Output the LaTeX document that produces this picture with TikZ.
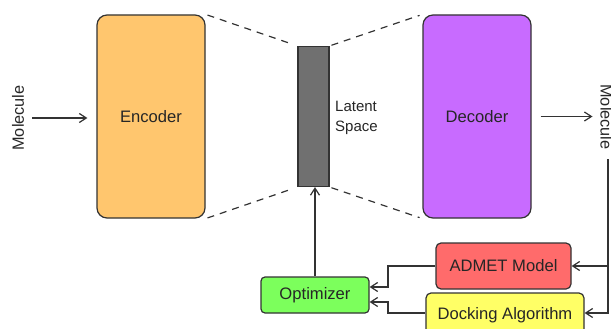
\documentclass[tikz,border=0pt]{standalone}
\usepackage{fontspec}
\setmainfont{Liberation Sans}
\usetikzlibrary{arrows.meta,calc}
\definecolor{encC}{HTML}{FFC66E}
\definecolor{decC}{HTML}{C86BFF}
\definecolor{latC}{HTML}{707070}
\definecolor{admC}{HTML}{FF6B6B}
\definecolor{dockC}{HTML}{FFFF66}
\definecolor{optC}{HTML}{7CFF5C}
\definecolor{lineC}{HTML}{333333}
\begin{document}
\begin{tikzpicture}[x=1pt,y=-1pt,
  box/.style={draw=lineC, line width=1.2pt, inner sep=0pt, font=\fontsize{16.6}{19}\selectfont, text=black!85},
  lbl/.style={inner sep=0pt, font=\fontsize{16.3}{19}\selectfont, text=black!85},
  arr/.style={draw=lineC, line width=1.2pt, -{Straight Barb[length=7pt,width=9pt,line width=1.2pt]}},
  dashln/.style={draw=lineC, line width=1.2pt, dash pattern=on 7pt off 6pt}
]
\useasboundingbox (0,0) rectangle (611,329);
\clip (0,0) rectangle (611,329);
% main boxes
\node[box, fill=encC, minimum width=108pt, minimum height=203pt, rounded corners=10pt] (enc) at (151,116.5) {Encoder};
\node[box, fill=decC, minimum width=108pt, minimum height=203pt, rounded corners=10pt] (dec) at (477,116.5) {Decoder};
\node[box, fill=latC, minimum width=31pt, minimum height=140pt] (lat) at (313.5,116.5) {};
\node[inner sep=0pt, anchor=west, align=left, font=\fontsize{15}{20}\selectfont, text=black!85] (lt) at (335,117.5) {Latent\\Space};
% side labels
\node[lbl, rotate=90] (molL) at (18,118) {Molecule};
\node[lbl, rotate=-90] (molR) at (606.5,117) {Molecule};
\coordinate (split) at (608,159);
% evaluation boxes
\node[box, fill=optC, minimum width=108pt, minimum height=36pt, rounded corners=4pt] (opt) at (315,295) {Optimizer};
\node[box, fill=admC, minimum width=135pt, minimum height=46pt, rounded corners=5pt] (adm) at (503.5,266) {ADMET Model};
\node[box, fill=dockC, minimum width=158pt, minimum height=44pt, rounded corners=5pt] (dock) at (505,315) {Docking Algorithm};
% dashed funnel
\draw[dashln, shorten <=2pt, shorten >=5pt] (enc.north east) -- (lat.north west);
\draw[dashln, shorten <=2pt, shorten >=5pt] (enc.south east) -- (lat.south west);
\draw[dashln, shorten <=2pt, shorten >=3pt] (lat.north east) -- (dec.north west);
\draw[dashln, shorten <=2pt, shorten >=3pt] (lat.south east) -- (dec.south west);
% main flow
\draw[arr, shorten <=8pt, shorten >=9pt] (molL) -- (molL -| enc.west);
\draw[arr, shorten <=9pt, shorten >=14pt] (dec.east) -- (dec.east -| molR);
\draw[arr] (opt.north) -- (lat.south -| opt.north);
% feedback
\draw[arr] (split) |- (adm.east);
\draw[arr] (split) |- ([yshift=2pt]dock.east);
\draw[arr] (adm.west) -| (388,287) -- ([yshift=8pt]opt.east);
\draw[arr] ([yshift=2pt]dock.west) -| (388,302) -- ([yshift=-7pt]opt.east);
\end{tikzpicture}
\end{document}
